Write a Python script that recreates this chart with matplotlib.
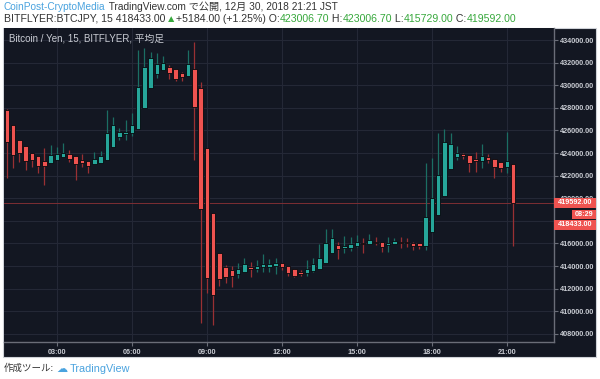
import matplotlib
matplotlib.use("Agg")
import matplotlib.pyplot as plt
import matplotlib.dates as mdates
from matplotlib.patches import Rectangle
import pandas as pd

# ---------------- data (15-min candles, BTC/JPY, 2018-12-30, JST) ----------------
start_time = "2018-12-30 01:00"
opens = [427810, 426480, 425150, 424620, 423970, 423730, 423320, 423090, 423380, 423620,
         423880, 423730, 423380, 423320, 423030, 423140, 423380, 424560, 425390, 425680,
         425740, 426100, 427960, 429730, 430990, 431350, 431640, 431410, 431050, 430840,
         431410, 429730, 424420, 418660, 415120, 413940, 413650, 413290, 413470, 413880,
         413730, 413880, 413940, 414000, 414240, 414030, 413730, 413500, 413350, 413560,
         413730, 414240, 415120, 415860, 415570, 415620, 415800, 416010, 415920, 416150,
         416150, 415860, 415950, 416100, 416100, 416060, 416010, 415770, 417040, 418510,
         420220, 422560, 423620, 423880, 423820, 423470, 423320, 423620, 423470, 423180,
         422790, 423006.7]
highs = [427900, 426500, 425150, 424620, 423970, 423730, 424420, 424710, 424500, 424910,
         424270, 423730, 423880, 423320, 424060, 424200, 427810, 427210, 426190, 426920,
         427510, 433120, 433270, 432960, 432820, 432580, 431790, 431410, 431140, 433120,
         433850, 430310, 424420, 418660, 415120, 414090, 414000, 414240, 414680, 414330,
         414530, 415060, 414590, 414680, 414240, 414030, 413730, 413650, 414530, 414680,
         415950, 417250, 417250, 416150, 416650, 416590, 416740, 416450, 416830, 416540,
         416150, 416540, 416500, 416590, 416500, 416150, 416010, 423090, 423530, 425740,
         426120, 425740, 424620, 423970, 423820, 424120, 424800, 423880, 423470, 423180,
         425880, 423006.7]
lows = [421790, 422670, 423230, 422500, 422790, 422260, 421170, 423090, 423380, 423620,
        423230, 421610, 422790, 422200, 423030, 423140, 423380, 424560, 425150, 425150,
        425530, 426100, 427960, 429730, 430610, 431350, 430520, 430400, 430400, 430840,
        423380, 408930, 411640, 408780, 412230, 412520, 412170, 412910, 413470, 413000,
        413440, 413440, 413440, 413290, 413650, 413140, 413050, 413120, 413120, 413440,
        413730, 414240, 415120, 414590, 415180, 415330, 415650, 415180, 415920, 415860,
        415270, 415210, 415950, 415570, 415710, 415420, 415480, 415420, 417040, 418510,
        420220, 422560, 423380, 423440, 422350, 422290, 422650, 423090, 421810, 422290,
        422200, 415729.0]
closes = [425000, 423820, 423970, 423290, 423380, 422850, 422880, 423820, 423910, 424030,
          423470, 423000, 423140, 422850, 423440, 423730, 425740, 426480, 425880, 425880,
          426480, 429870, 431640, 432380, 431880, 431940, 431050, 430520, 430750, 431850,
          428100, 419020, 412910, 411430, 412820, 413050, 413120, 413710, 414150, 413760,
          414030, 414150, 414150, 414290, 413880, 413410, 413140, 413270, 413730, 414180,
          414680, 416010, 416450, 415500, 415770, 415920, 416150, 415920, 416300, 416010,
          415650, 416010, 416240, 416010, 416010, 415800, 415770, 418360, 420040, 422050,
          424950, 424770, 423970, 423760, 423090, 423290, 423730, 423380, 422790, 422700,
          423290, 419592.0]
last_price = 419592.00
last_trade = 418433.00
countdown = "08:29"
price_ticks = list(range(408000, 434001, 2000))
hidden_ticks = [418000]          # fully covered by the price boxes in the original
time_ticks = [3, 6, 9, 12, 15, 18, 21]

header1 = [("CoinPost-CryptoMedia", "B"), (" TradingView.com で公開, 12月 30, 2018 21:21 JST", "g")]
header2 = [("BITFLYER:BTCJPY, 15 418433.00", "g"), ("▲", "G"), ("+5184.00 (+1.25%) O:", "g"),
           ("423006.70", "G"), (" H:", "g"), ("423006.70", "G"), (" L:", "g"),
           ("415729.00", "G"), (" C:", "g"), ("419592.00", "G")]
chart_title = "Bitcoin / Yen, 15, BITFLYER, 平均足"
footer_a = "作成ツール:"
footer_b = "TradingView"

# ---------------- style ----------------
W, H = 600, 379
FAM = ["Liberation Sans", "Noto Sans CJK JP", "DejaVu Sans"]
BG = "#131722"
GRID = "#242836"
UP, DOWN = "#26a69a", "#ef5350"
UPW, DOWNW = "#1b6e63", "#9a3033"
AXC = "#6a6d78"
TXT = "#c9ccd3"
DARK = "#333333"
GREEN = "#37a83c"
BLUE = "#4aa3df"
COLS = {"g": DARK, "G": GREEN, "B": BLUE}

fig = plt.figure(figsize=(W / 100, H / 100), dpi=100)
fig.patch.set_facecolor("white")

def fx(px):
    return px / W

def fy(py):
    return 1 - py / H

# dark panel
fig.add_artist(Rectangle((fx(3), fy(357)), fx(593), (357 - 27.5) / H,
                         transform=fig.transFigure, facecolor=BG,
                         edgecolor="#cfd2d8", linewidth=0.8, zorder=0))

ax = fig.add_axes([fx(4), fy(341.7), 550 / W, (341.7 - 28) / H])
ax.set_facecolor(BG)

times = pd.date_range(start_time, periods=len(opens), freq="15min")
xs = mdates.date2num(times.to_pydatetime())
bw = 0.18 / 24

for x, o, h, l, c in zip(xs, opens, highs, lows, closes):
    up = c >= o
    ax.vlines(x, l, h, color=UPW if up else DOWNW, linewidth=0.9, zorder=3)
    ax.bar(x, max(abs(c - o), 60), bottom=min(o, c), width=bw,
           color=UP if up else DOWN, edgecolor="#07090d", linewidth=0.6, zorder=4)

ax.axhline(last_price, color="#7d2e33", linewidth=0.7, zorder=2)

ax.set_xlim(mdates.date2num(pd.Timestamp("2018-12-30 00:53")),
            mdates.date2num(pd.Timestamp("2018-12-30 22:53")))
ax.set_ylim(407301, 435062)

ax.xaxis.set_major_locator(mdates.HourLocator(byhour=time_ticks))
ax.xaxis.set_major_formatter(mdates.DateFormatter("%H:%M"))
ax.set_yticks(price_ticks)
ax.set_yticklabels(["" if p in hidden_ticks else f"{p:.2f}" for p in price_ticks])
ax.yaxis.tick_right()

ax.grid(True, color=GRID, linewidth=0.8, zorder=0)
for s in ["left", "top"]:
    ax.spines[s].set_visible(False)
for s in ["right", "bottom"]:
    ax.spines[s].set_color(AXC)
    ax.spines[s].set_linewidth(1.0)
ax.tick_params(axis="both", colors=AXC, length=3, width=0.8)
ax.tick_params(axis="y", pad=1.5)
ax.tick_params(axis="x", pad=2)
for lab in ax.get_xticklabels() + ax.get_yticklabels():
    lab.set_color(TXT)
    lab.set_fontsize(5.2)
    lab.set_fontweight("bold")
    lab.set_family(FAM)

ax.text(0.009, 0.968, chart_title, transform=ax.transAxes, color=TXT,
        fontsize=7.0, family=FAM, va="center", ha="left")

# ---------------- price labels on the right scale ----------------
fig.canvas.draw()
ypx = ax.transData.transform((0, last_price))[1]

def box(x0, x1, yc, hgt, text, fc):
    fig.add_artist(Rectangle((x0 / W, (yc - hgt / 2) / H), (x1 - x0) / W, hgt / H,
                             transform=fig.transFigure, facecolor=fc,
                             edgecolor="none", zorder=5))
    fig.text((x0 + x1) / 2 / W, yc / H, text, color="white", fontsize=5.2,
             fontweight="bold", family=FAM, ha="center", va="center", zorder=6)

box(554, 596, ypx, 10, f"{last_price:.2f}", DOWN)
box(572, 596, ypx - 11.4, 9, countdown, DOWN)
box(554, 596, ypx - 22, 10, f"{last_trade:.2f}", DOWN)

# ---------------- header / footer ----------------
r = fig.canvas.get_renderer()

def seq_text(x, y, parts, size, target=None):
    arts = []
    for s, k in parts:
        arts.append(fig.text(fx(x), fy(y), s, color=COLS[k], fontsize=size,
                             family=FAM, va="center", ha="left"))
    if target is not None:
        total = sum(t.get_window_extent(renderer=r).width for t in arts)
        size = size * target / total
        for t in arts:
            t.set_fontsize(size)
    for t in arts:
        t.set_x(fx(x))
        x += t.get_window_extent(renderer=r).width

seq_text(4, 6.5, header1, 7.0, target=331)
seq_text(4, 18.5, header2, 7.0, target=509)
seq_text(4, 368.5, [(footer_a, "g")], 6.8)
fig.text(fx(56), fy(368.5), "☁", color=BLUE, fontsize=8, family="DejaVu Sans",
         va="center", ha="left")
fig.text(fx(70), fy(368.5), footer_b, color=BLUE, fontsize=7.8, family=FAM,
         va="center", ha="left")

fig.savefig("out.png", dpi=100, facecolor="white")
